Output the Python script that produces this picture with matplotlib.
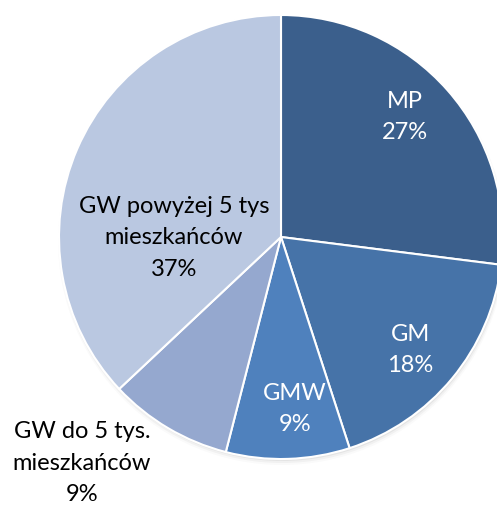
import matplotlib.pyplot as plt
from matplotlib.patches import Circle

categorie = ['MP', 'GM', 'GMW', 'GW do 5 tys.\nmieszkańców', 'GW powyżej 5 tys\nmieszkańców']
udzialy = [27, 18, 9, 9, 37]
kolory = ['#3B5F8C', '#4673A8', '#4F81BD', '#95A8CF', '#BAC8E1']
kolory_tekstu = ['white', 'white', 'white', 'black', 'black']

# polozenie etykiet w pikselach obrazu (x, y od gory)
pozycje_etykiet = [(405, 117), (410, 350), (295, 409), (82, 463), (174, 238)]

W, H = 497, 505
fig = plt.figure(figsize=(W / 100, H / 100), dpi=100)
ax = fig.add_axes([0, 0, 1, 1])

srodek = (281, H - 237)
promien = 222

# lekki cien pod kolem
for i, a in enumerate([0.10, 0.07, 0.04]):
    ax.add_patch(Circle((srodek[0] + 1, srodek[1] - 2 - i), promien + i, color='gray',
                        alpha=a, lw=0, zorder=0))

ax.pie(udzialy, colors=kolory, startangle=90, counterclock=False,
       center=srodek, radius=promien,
       wedgeprops=dict(edgecolor='white', linewidth=1.5, zorder=1))

for nazwa, proc, kol, (x, y) in zip(categorie, udzialy, kolory_tekstu, pozycje_etykiet):
    ax.text(x, H - y, f'{nazwa}\n{proc}%', ha='center', va='center',
            color=kol, fontsize=17, family='Lato', linespacing=1.62, zorder=3)

ax.set_xlim(0, W)
ax.set_ylim(0, H)
ax.set_aspect('equal')
ax.axis('off')

plt.savefig('out.png', dpi=100)
plt.close()
